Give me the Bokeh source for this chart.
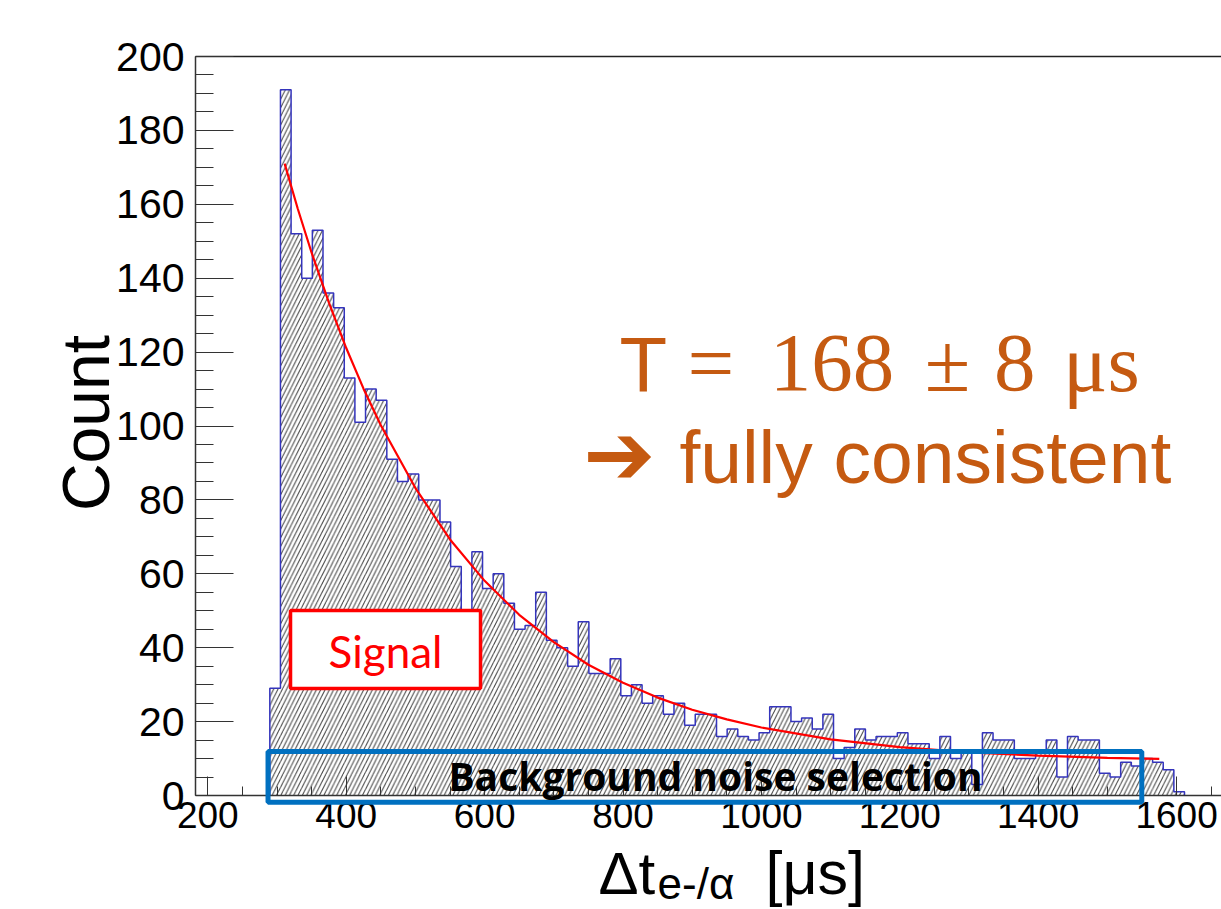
import math
from bokeh.plotting import figure
from bokeh.models import Range1d, SingleIntervalTicker, FixedTicker, BoxAnnotation, Label, LinearAxis
from bokeh.embed import file_html
from bokeh.resources import INLINE

# ---------------- data ----------------
bin_start = 289.6      # left edge of first histogram bin [us]
bin_width = 15.37      # bin width [us]
counts = [29, 191, 152, 140, 153, 136, 132, 113, 101, 110,
          107, 91, 85, 87, 80, 80, 74, 62, 45, 66,
          56, 60, 52, 45, 46, 55, 42, 40, 35, 47,
          33, 33, 37, 27, 30, 25, 27, 22, 25, 19,
          22, 22, 16, 18, 16, 15, 17, 24, 24, 20,
          21, 18, 22, 10, 13, 18, 15, 16, 16, 17,
          14, 14, 10, 16, 10, 12, 3, 17, 15, 15,
          10, 10, 12, 15, 5, 16, 15, 15, 6, 5,
          9, 8, 10, 9, 7, 1]

fit_x = [311, 330, 350, 375, 400, 425, 450, 500, 550, 600, 650, 700,
         750, 800, 850, 900, 950, 1000, 1100, 1200, 1300, 1400, 1500, 1575]
fit_y = [171, 158.8, 146.9, 133.4, 121.1, 110.1, 100.2, 83.2, 69.3, 58.1, 48.9, 41.5,
         35.4, 30.5, 26.5, 23.2, 20.6, 18.4, 15.2, 13.1, 11.7, 10.8, 10.2, 9.9]

x_axis_min = 182.2
x_axis_max = 1665
y_axis_min = 0
y_axis_max = 200
x_tick_step = 200
y_tick_step = 20

# ---------------- figure (frame = whole canvas, axes at fixed locations) ----------------
p = figure(width=1221, height=909,
           x_range=Range1d(-99.6, 1664.9), y_range=Range1d(-30.85, 215.16),
           output_backend="svg", toolbar_location=None,
           min_border_left=0, min_border_right=0,
           min_border_top=0, min_border_bottom=0)
p.outline_line_color = None
p.xgrid.visible = False
p.ygrid.visible = False
p.background_fill_color = "white"
p.border_fill_color = "white"

left = [bin_start + i * bin_width for i in range(len(counts))]
right = [l + bin_width for l in left]

# hatched histogram body
p.quad(left=left, right=right, top=counts, bottom=0,
       fill_alpha=0, line_color=None,
       hatch_pattern="/", hatch_color="#3c3c3c", hatch_scale=8.6, hatch_weight=1)

# histogram outline (step)
sx = [left[0]]
sy = [0]
for l, r, c in zip(left, right, counts):
    sx += [l, r]
    sy += [c, c]
sx.append(right[-1])
sy.append(0)
p.line(sx, sy, line_color="#3434bc", line_width=1.5)

# fit curve
p.line(fit_x, fit_y, line_color="#ff0000", line_width=2.2)

# axes
p.xaxis.ticker = SingleIntervalTicker(interval=x_tick_step, num_minor_ticks=4)
p.yaxis.ticker = SingleIntervalTicker(interval=y_tick_step, num_minor_ticks=4)
p.xaxis.fixed_location = y_axis_min
p.yaxis.fixed_location = x_axis_min
p.xaxis.bounds = (x_axis_min, x_axis_max)
p.yaxis.bounds = (y_axis_min, y_axis_max)
for ax in (p.xaxis[0], p.yaxis[0]):
    ax.axis_line_color = "#333333"
    ax.axis_line_width = 1.5
    ax.major_tick_line_color = "#333333"
    ax.minor_tick_line_color = "#333333"
    ax.major_tick_out = 0
    ax.minor_tick_out = 0
    ax.major_label_text_font = "Liberation Sans"
    ax.major_label_text_color = "black"
p.xaxis.major_tick_in = 19
p.xaxis.minor_tick_in = 9
p.yaxis.major_tick_in = 38
p.yaxis.minor_tick_in = 18
p.xaxis.major_label_text_font_size = "37px"
p.yaxis.major_label_text_font_size = "41px"
p.xaxis.major_label_standoff = 6
p.yaxis.major_label_standoff = 11

# top frame line
top_axis = LinearAxis(ticker=FixedTicker(ticks=[]), fixed_location=y_axis_max,
                      bounds=(x_axis_min, x_axis_max), axis_line_color="#222222",
                      axis_line_width=1.5, major_label_text_font_size="0px")
p.add_layout(top_axis, "above")

# y-axis title
p.add_layout(Label(x=23.3, y=100.8, text="Count", angle=math.pi / 2,
                   text_font="Liberation Sans", text_font_size="66px", text_color="black",
                   text_align="center", text_baseline="middle"))

# x-axis title pieces
p.add_layout(Label(x=764.6, y=-21.1, text="Δt", text_font="Liberation Sans",
                   text_font_size="60px", text_color="black", text_baseline="middle"))
p.add_layout(Label(x=849.9, y=-23.9, text="e-/α", text_font="Liberation Sans",
                   text_font_size="44px", text_color="black", text_baseline="middle"))
p.add_layout(Label(x=1005.9, y=-21.1, text="[μs]", text_font="Liberation Sans",
                   text_font_size="61px", text_color="black", text_baseline="middle"))

# signal box
p.add_layout(BoxAnnotation(left=319.5, right=594.1, bottom=28.96, top=50.07,
                           fill_color="white", fill_alpha=1.0,
                           line_color="#ff0000", line_alpha=1.0, line_width=3.5))
p.add_layout(Label(x=456.8, y=39.2, text="Signal", text_font="Lato",
                   text_font_size="44px", text_color="#ff0000",
                   text_align="center", text_baseline="middle"))

# background box
p.add_layout(BoxAnnotation(left=287, right=1549.7, bottom=-1.8, top=11.9,
                           fill_alpha=0, line_color="#0070c0", line_alpha=1.0, line_width=5))
p.add_layout(Label(x=933.7, y=5.3, text="Background noise selection", text_font="Open Sans",
                   text_font_style="bold", text_font_size="39px", text_color="black",
                   text_align="center", text_baseline="middle"))

# result text
orange = "#c55a11"
p.add_layout(Label(x=795.0, y=116.5, text="T", text_font="Liberation Sans",
                   text_font_size="78px", text_color=orange, text_baseline="middle"))
for xx, tt in [(893.2, "="), (1012.0, "168"), (1236.0, "±"), (1336.0, "8"), (1436.0, "μs")]:
    p.add_layout(Label(x=xx, y=117.0, text=tt, text_font="Liberation Serif",
                       text_font_size="83px", text_color=orange, text_baseline="middle"))
p.add_layout(Label(x=742.5, y=92.3, text="➔", text_font="DejaVu Sans",
                   text_font_size="86px", text_color=orange, text_baseline="middle"))
p.add_layout(Label(x=881.5, y=91.5, text="fully consistent", text_font="Liberation Sans",
                   text_font_size="75px", text_color=orange, text_baseline="middle"))

open("out.html", "w").write(file_html(p, INLINE))
